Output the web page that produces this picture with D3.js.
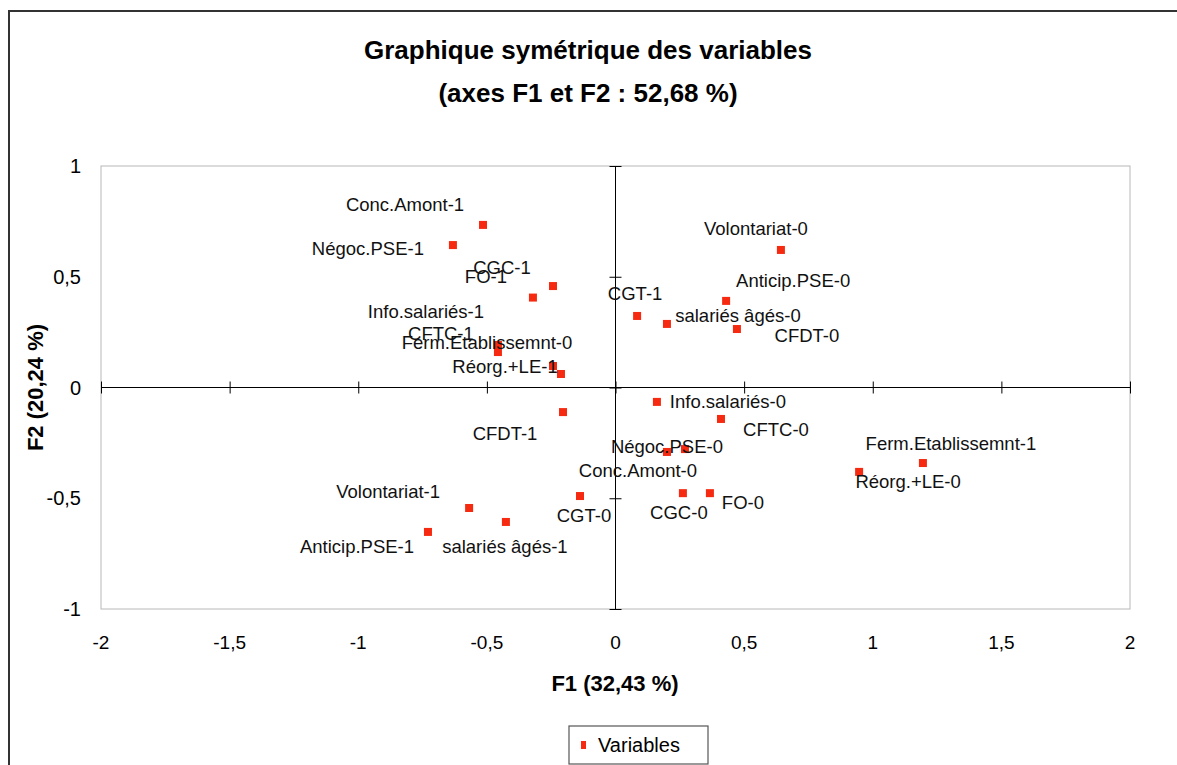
<!DOCTYPE html>
<html>
<head>
<meta charset="utf-8">
<script src="https://cdn.jsdelivr.net/npm/d3@7"></script>
<style>
body{margin:0;background:#fff;}
text{font-family:"Liberation Sans",Arial,sans-serif;}
</style>
</head>
<body>
<div id="graph"></div>
<script>
var width=1177;
var height=765;

// modalities of the variables (F1, F2 coordinates)
var labels=['Conc.Amont-1','Négoc.PSE-1','CGC-1','FO-1','Info.salariés-1','CFTC-1',
	'Ferm.Etablissemnt-0','Réorg.+LE-1','CFDT-1','Volontariat-1','salariés âgés-1','Anticip.PSE-1',
	'CGT-0','CGT-1','salariés âgés-0','Anticip.PSE-0','CFDT-0','Volontariat-0',
	'Info.salariés-0','CFTC-0','Négoc.PSE-0','Conc.Amont-0','CGC-0','FO-0','Réorg.+LE-0','Ferm.Etablissemnt-1'];
var f1=[-0.515,-0.632,-0.243,-0.321,-0.457,-0.457,-0.212,-0.243,-0.204,-0.569,-0.426,-0.729,
	-0.138,0.084,0.200,0.430,0.472,0.643,0.161,0.410,0.200,0.270,0.262,0.367,0.947,1.195];
var f2=[0.734,0.643,0.458,0.406,0.192,0.160,0.061,0.097,-0.111,-0.544,-0.607,-0.652,
	-0.490,0.323,0.287,0.391,0.264,0.621,-0.065,-0.142,-0.291,-0.278,-0.477,-0.477,-0.381,-0.341];
var xTicks=[-2,-1.5,-1,-0.5,0,0.5,1,1.5,2];
var yTicks=[-1,-0.5,0,0.5,1];

// label placement (pixel offset from the point)
var labelDx=[-78,-85,-51,-47,-72,-57,-74,-48,-58,-81,-1,-71,4,-2,71,67,70,-25,71,55,0,-47,-4,33,49,28];
var labelDy=[-20,3,-19,-21,-33,-19,-31,1,21,-16,25,15,19,-22,-8,-20,7,-21,0,11,-5,21,19,9,10,-20];

var plotLeft=101,plotRight=1130,plotTop=166,plotBottom=609;

var svg=d3.select('#graph').append('svg').attr('width',width).attr('height',height);

var x=d3.scaleLinear().domain([-2,2]).range([plotLeft,plotRight]);
var y=d3.scaleLinear().domain([-1,1]).range([plotBottom,plotTop]);
var fmt=function(v){return String(v).replace('.',',');};

// chart frame
svg.append('path').attr('d','M9,'+height+'V11H'+width).attr('fill','none').attr('stroke','#333').attr('stroke-width',2);

// plot area
svg.append('rect').attr('x',plotLeft).attr('y',plotTop).attr('width',plotRight-plotLeft).attr('height',plotBottom-plotTop)
	.attr('fill','none').attr('stroke','#b8b8b8').attr('stroke-width',1);

// axes through the origin
var xAxis=d3.axisBottom(x).tickValues(xTicks).tickSize(12).tickFormat('');
svg.append('g').attr('transform','translate(0,'+(y(0)-6)+')').call(xAxis)
	.call(function(g){g.select('.domain').remove();g.selectAll('line').attr('stroke','#000');});
svg.append('line').attr('x1',plotLeft).attr('x2',plotRight).attr('y1',y(0)).attr('y2',y(0)).attr('stroke','#000');

var yAxis=d3.axisLeft(y).tickValues(yTicks).tickSize(12).tickFormat('');
svg.append('g').attr('transform','translate('+(x(0)+6)+',0)').call(yAxis)
	.call(function(g){g.select('.domain').remove();g.selectAll('line').attr('stroke','#000');});
svg.append('line').attr('x1',x(0)).attr('x2',x(0)).attr('y1',plotTop).attr('y2',plotBottom).attr('stroke','#000');

// tick labels
svg.selectAll('.xl').data(xTicks).enter().append('text').attr('class','xl')
	.attr('x',function(d){return x(d);}).attr('y',642).attr('dy','0.35em')
	.attr('text-anchor','middle').attr('font-size',19).text(fmt);
svg.selectAll('.yl').data(yTicks).enter().append('text').attr('class','yl')
	.attr('x',81).attr('y',function(d){return y(d);}).attr('dy','0.35em')
	.attr('text-anchor','end').attr('font-size',20).text(fmt);

// titles
svg.append('text').attr('x',588).attr('y',50).attr('dy','0.35em').attr('text-anchor','middle')
	.attr('font-size',26).attr('font-weight','bold').text('Graphique symétrique des variables');
svg.append('text').attr('x',588).attr('y',93).attr('dy','0.35em').attr('text-anchor','middle')
	.attr('font-size',26).attr('font-weight','bold').text('(axes F1 et F2 : 52,68 %)');
svg.append('text').attr('x',615).attr('y',683).attr('dy','0.35em').attr('text-anchor','middle')
	.attr('font-size',22).attr('font-weight','bold').text('F1 (32,43 %)');
svg.append('text').attr('transform','translate(35,'+y(0)+') rotate(-90)').attr('dy','0.35em')
	.attr('text-anchor','middle').attr('font-size',22).attr('font-weight','bold').text('F2 (20,24 %)');

// points
var dataset=labels.map(function(l,i){return {label:l,f1:f1[i],f2:f2[i],dx:labelDx[i],dy:labelDy[i]};});
svg.selectAll('rect.pt').data(dataset).enter().append('rect').attr('class','pt')
	.attr('x',function(d){return x(d.f1)-4;}).attr('y',function(d){return y(d.f2)-4;})
	.attr('width',8).attr('height',8).attr('fill','#f52a10');
svg.selectAll('text.lab').data(dataset).enter().append('text').attr('class','lab')
	.attr('x',function(d){return x(d.f1)+d.dx;}).attr('y',function(d){return y(d.f2)+d.dy;})
	.attr('dy','0.35em').attr('text-anchor','middle').attr('font-size',18.5)
	.attr('fill','#111').text(function(d){return d.label;});

// legend
svg.append('rect').attr('x',569).attr('y',726).attr('width',139).attr('height',38)
	.attr('fill','#fff').attr('stroke','#555').attr('stroke-width',1.2);
svg.append('rect').attr('x',581).attr('y',741).attr('width',5).attr('height',8).attr('fill','#f52a10');
svg.append('text').attr('x',598).attr('y',745).attr('dy','0.35em').attr('font-size',20).text('Variables');
</script>
</body>
</html>
